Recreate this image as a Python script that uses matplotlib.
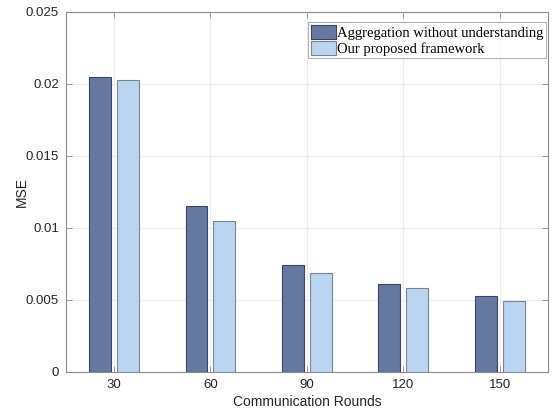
import matplotlib.pyplot as plt
import numpy as np

rounds = [30, 60, 90, 120, 150]
baseline = [0.0205, 0.0115, 0.0074, 0.0061, 0.0053]
proposed = [0.0203, 0.0105, 0.0069, 0.0058, 0.0049]

plt.rcParams['font.family'] = ['Liberation Sans', 'DejaVu Sans']

fig = plt.figure(figsize=(5.58, 4.09), dpi=100)
ax = fig.add_axes([0.118, 0.0905, 0.864, 0.8805])

x = np.array(rounds, dtype=float)
width = 6.8
off = 4.33

ax.bar(x - off, baseline, width, color='#6478a0', edgecolor='#3a4560', linewidth=0.8,
       label='Aggregation without understanding', zorder=3)
ax.bar(x + off, proposed, width, color='#b9d5f2', edgecolor='#7d848c', linewidth=0.8,
       label='Our proposed framework', zorder=3)

ax.set_xlim(15, 165)
ax.set_ylim(0, 0.025)
ax.set_xticks(rounds)
ax.set_yticks([0, 0.005, 0.01, 0.015, 0.02, 0.025])
ax.set_yticklabels(['0', '0.005', '0.01', '0.015', '0.02', '0.025'])

ax.grid(True, color='#ececec', linewidth=0.8, zorder=0)
ax.tick_params(direction='in', color='#8c8c8c', labelcolor='#262626', labelsize=9.5,
               length=4, width=0.6, top=True, right=True, pad=5)
for s in ax.spines.values():
    s.set_color('#8c8c8c')
    s.set_linewidth(0.8)

ax.set_xlabel('Communication Rounds', fontsize=10, color='#262626', labelpad=3)
ax.set_ylabel('MSE', fontsize=10, color='#262626', labelpad=-2)

leg = ax.legend(loc='upper right', bbox_to_anchor=(1.0, 0.976), fancybox=False,
                prop={'family': 'Liberation Serif', 'size': 10.5},
                handlelength=1.7, handleheight=1.1, handletextpad=0.1,
                borderpad=0.2, labelspacing=0.05, borderaxespad=0.1)
leg.get_frame().set_edgecolor('#a0a0a0')
leg.get_frame().set_linewidth(0.8)

plt.savefig('out.png', dpi=100)
